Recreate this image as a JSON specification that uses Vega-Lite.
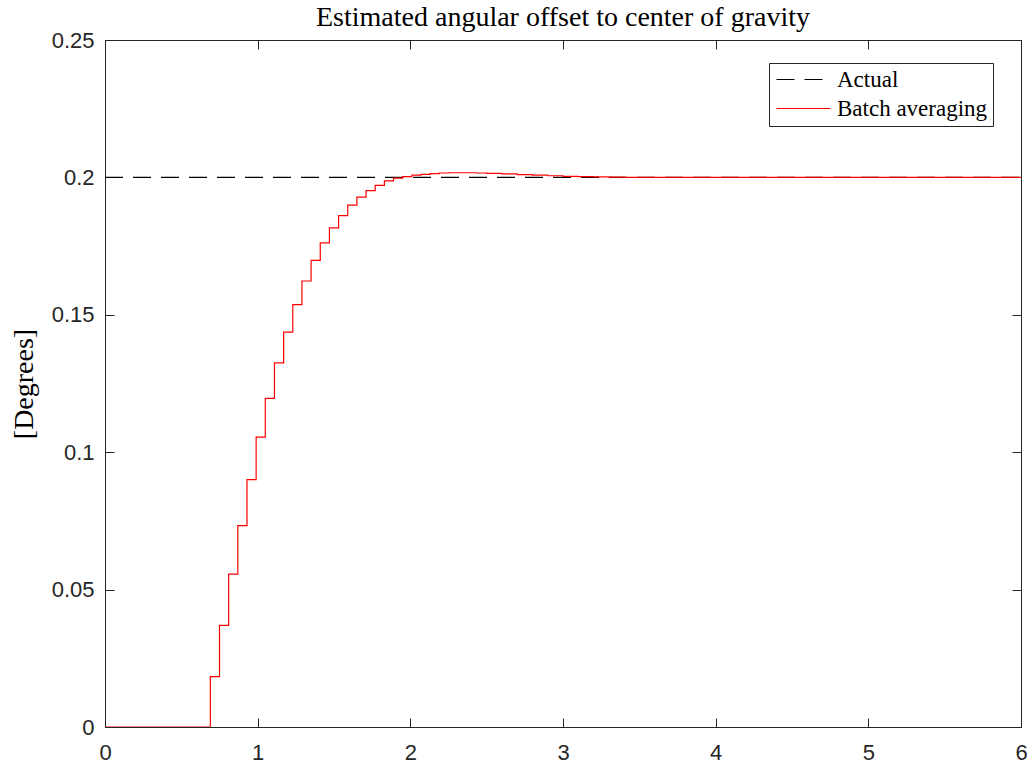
{
  "$schema": "https://vega.github.io/schema/vega-lite/v6.json",
  "width": 916,
  "height": 687,
  "autosize": {"type": "none"},
  "padding": {"left": 105, "top": 40, "right": 6, "bottom": 42},
  "background": "white",
  "title": {"text": "Estimated angular offset to center of gravity", "font": "Liberation Serif", "fontSize": 28, "fontWeight": "normal", "color": "#000000", "offset": -3},
  "config": {
    "view": {"stroke": null},
    "axis": {"domainColor": "#262626", "tickColor": "#262626", "labelColor": "#262626", "labelFont": "Liberation Sans", "labelFontSize": 22, "grid": false, "tickSize": -9, "tickWidth": 1, "domainWidth": 1, "labelFlush": false}
  },
  "data": {"values": [
    {"t": 0, "v": 0.2, "series": "Actual"},
    {"t": 6, "v": 0.2, "series": "Actual"},
    {"t": 0, "v": 0, "series": "Batch averaging"},
    {"t": 0.69, "v": 0.0183, "series": "Batch averaging"},
    {"t": 0.75, "v": 0.037, "series": "Batch averaging"},
    {"t": 0.81, "v": 0.0556, "series": "Batch averaging"},
    {"t": 0.87, "v": 0.0733, "series": "Batch averaging"},
    {"t": 0.93, "v": 0.09, "series": "Batch averaging"},
    {"t": 0.99, "v": 0.1055, "series": "Batch averaging"},
    {"t": 1.05, "v": 0.1196, "series": "Batch averaging"},
    {"t": 1.11, "v": 0.1325, "series": "Batch averaging"},
    {"t": 1.17, "v": 0.1437, "series": "Batch averaging"},
    {"t": 1.23, "v": 0.1537, "series": "Batch averaging"},
    {"t": 1.29, "v": 0.1623, "series": "Batch averaging"},
    {"t": 1.35, "v": 0.1698, "series": "Batch averaging"},
    {"t": 1.41, "v": 0.1762, "series": "Batch averaging"},
    {"t": 1.47, "v": 0.1816, "series": "Batch averaging"},
    {"t": 1.53, "v": 0.1861, "series": "Batch averaging"},
    {"t": 1.59, "v": 0.1899, "series": "Batch averaging"},
    {"t": 1.65, "v": 0.1928, "series": "Batch averaging"},
    {"t": 1.71, "v": 0.1952, "series": "Batch averaging"},
    {"t": 1.77, "v": 0.1971, "series": "Batch averaging"},
    {"t": 1.83, "v": 0.1987, "series": "Batch averaging"},
    {"t": 1.89, "v": 0.1997, "series": "Batch averaging"},
    {"t": 1.95, "v": 0.2003, "series": "Batch averaging"},
    {"t": 2.01, "v": 0.2008, "series": "Batch averaging"},
    {"t": 2.07, "v": 0.2011, "series": "Batch averaging"},
    {"t": 2.13, "v": 0.2014, "series": "Batch averaging"},
    {"t": 2.19, "v": 0.2016, "series": "Batch averaging"},
    {"t": 2.25, "v": 0.2017, "series": "Batch averaging"},
    {"t": 2.31, "v": 0.2017, "series": "Batch averaging"},
    {"t": 2.37, "v": 0.2017, "series": "Batch averaging"},
    {"t": 2.43, "v": 0.2016, "series": "Batch averaging"},
    {"t": 2.5, "v": 0.2015, "series": "Batch averaging"},
    {"t": 2.6, "v": 0.2013, "series": "Batch averaging"},
    {"t": 2.7, "v": 0.201, "series": "Batch averaging"},
    {"t": 2.8, "v": 0.2008, "series": "Batch averaging"},
    {"t": 2.9, "v": 0.2006, "series": "Batch averaging"},
    {"t": 3.0, "v": 0.2004, "series": "Batch averaging"},
    {"t": 3.1, "v": 0.2003, "series": "Batch averaging"},
    {"t": 3.2, "v": 0.2002, "series": "Batch averaging"},
    {"t": 3.3, "v": 0.2001, "series": "Batch averaging"},
    {"t": 3.4, "v": 0.2, "series": "Batch averaging"},
    {"t": 4, "v": 0.2, "series": "Batch averaging"},
    {"t": 5, "v": 0.2, "series": "Batch averaging"},
    {"t": 6, "v": 0.2, "series": "Batch averaging"}
  ]},
  "layer": [
    {
      "mark": {"type": "line", "interpolate": "step-after", "strokeWidth": 1.2, "clip": true},
      "encoding": {
        "x": {"field": "t", "type": "quantitative", "scale": {"domain": [0, 6], "nice": false, "zero": false},
              "axis": {"orient": "bottom", "values": [0, 1, 2, 3, 4, 5, 6], "format": "d", "labelPadding": 24, "title": null}},
        "y": {"field": "v", "type": "quantitative", "scale": {"domain": [0, 0.25], "nice": false, "zero": false},
              "axis": {"orient": "left", "values": [0, 0.05, 0.1, 0.15, 0.2, 0.25], "format": "~g", "labelPadding": 20,
                       "title": "[Degrees]", "titleFont": "Liberation Serif", "titleFontSize": 28, "titleFontWeight": "normal", "titleColor": "#000000", "titlePadding": 13}},
        "color": {"field": "series", "type": "nominal", "scale": {"domain": ["Actual", "Batch averaging"], "range": ["#000000", "#ff0000"]},
                  "legend": {"title": null, "orient": "none", "legendX": 664, "legendY": 23, "symbolType": "M-2.5,0H2.5", "symbolSize": 467, "symbolStrokeWidth": 1.2, "symbolOffset": 18,
                             "labelFont": "Liberation Serif", "labelFontSize": 23, "labelColor": "#000000", "strokeColor": "#262626", "fillColor": "white", "padding": 5, "labelOffset": 22, "rowPadding": 5}},
        "strokeDash": {"field": "series", "type": "nominal", "scale": {"domain": ["Actual", "Batch averaging"], "range": [[18, 10], [1, 0]]}, "legend": {"title": null}},
        "order": {"field": "t", "type": "quantitative"}
      }
    },
    {
      "mark": {"type": "point", "opacity": 0},
      "encoding": {
        "x": {"field": "t", "type": "quantitative", "axis": {"orient": "top", "values": [0, 1, 2, 3, 4, 5, 6], "labels": false, "title": null}},
        "y": {"field": "v", "type": "quantitative", "axis": {"orient": "right", "values": [0, 0.05, 0.1, 0.15, 0.2, 0.25], "labels": false, "title": null}}
      }
    }
  ],
  "resolve": {"axis": {"x": "independent", "y": "independent"}}
}
